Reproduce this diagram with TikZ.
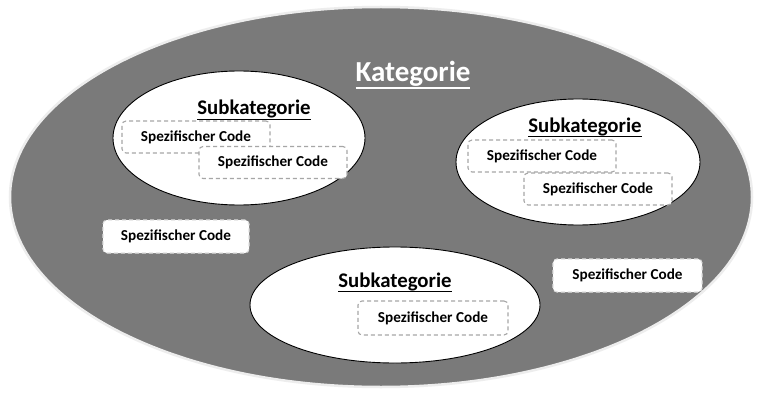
\documentclass[tikz,border=0pt]{standalone}
\usepackage{fontspec}
\setmainfont{Carlito}
\newcommand\ulx[2]{\vtop{\hbox{#2}\kern0.3pt\hrule height #1}}
\begin{document}
\begin{tikzpicture}[x=1pt,y=-1pt,
  catlabel/.style={font=\bfseries\fontsize{29}{33}\selectfont,text=white,anchor=base,inner sep=0pt},
  sublabel/.style={font=\bfseries\fontsize{20.8}{24}\selectfont,text=black,anchor=base,inner sep=0pt},
  subset/.style={draw=black,line width=0.9pt,fill=white},
  codebox/.style={draw=gray!70,dashed,dash pattern=on 4pt off 3pt,line width=1.1pt,fill=white,
    rounded corners=4pt,minimum width=148pt,minimum height=32pt,inner sep=0pt,
    font=\bfseries\fontsize{15.2}{18}\selectfont},
  loosebox/.style={codebox,draw=gray!25}]
\useasboundingbox (0,0) rectangle (757,393);
\fill[white] (0,0) rectangle (757,393);
% category
\draw[fill=black!52,draw=black!7,line width=2.5pt] (381,197) ellipse [x radius=371,y radius=190];
\node[catlabel] (cat) at (413,82) {\ulx{2pt}{Kategorie}};
% subcategory 1
\draw[subset] (239,138) ellipse [x radius=126,y radius=67];
\node[sublabel] (s1) at (254,115) {\ulx{1.6pt}{Subkategorie}};
\node[codebox] (c11) at (196,137) {Spezifischer Code};
\node[codebox] (c12) at (273,162.5) {Spezifischer Code};
% subcategory 2
\draw[subset] (578,162) ellipse [x radius=122,y radius=63];
\node[sublabel] (s2) at (585,132) {\ulx{1.6pt}{Subkategorie}};
\node[codebox] (c21) at (542,156) {Spezifischer Code};
\node[codebox] (c22) at (598,189) {Spezifischer Code};
% subcategory 3
\draw[subset] (395,305) ellipse [x radius=145,y radius=58];
\node[sublabel] (s3) at (395,287) {\ulx{1.6pt}{Subkategorie}};
\node[codebox,minimum width=150pt,minimum height=34pt] (c31) at (433,318) {Spezifischer Code};
% codes without subcategory
\node[loosebox,minimum width=146pt,minimum height=33pt] (ca) at (176,236.5) {Spezifischer Code};
\node[loosebox,minimum width=149pt,minimum height=33pt] (cb) at (627.5,275.5) {Spezifischer Code};
\end{tikzpicture}
\end{document}
